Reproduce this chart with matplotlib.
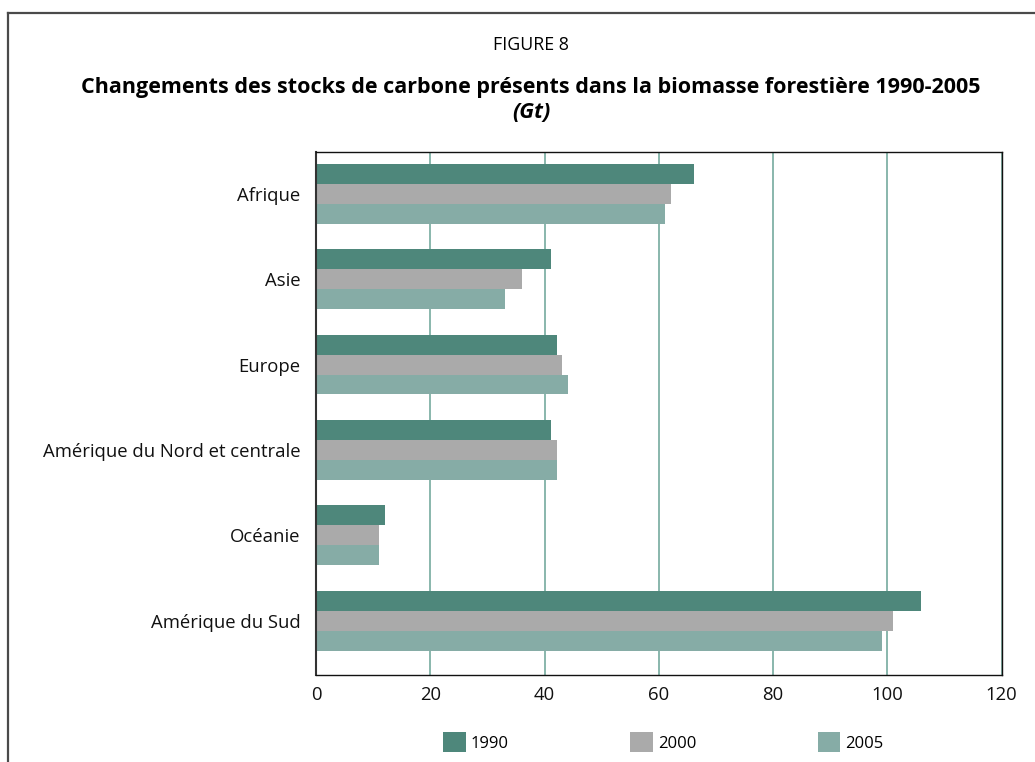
import matplotlib
matplotlib.use("Agg")
import matplotlib.pyplot as plt
from matplotlib.lines import Line2D
from matplotlib.patches import Patch
import numpy as np

plt.rcParams['font.family'] = ['Open Sans', 'DejaVu Sans']

regions = ['Afrique', 'Asie', 'Europe', 'Amérique du Nord et centrale',
           'Océanie', 'Amérique du Sud']
years = ['1990', '2000', '2005']
stock_1990 = [66.2, 41.1, 42.2, 41.2, 12.1, 105.9]
stock_2000 = [62.2, 36.0, 43.1, 42.2, 11.0, 101.0]
stock_2005 = [61.1, 33.0, 44.1, 42.2, 11.0, 99.0]
colors = ['#4e877b', '#aaaaaa', '#86aca6']

W, H = 1035, 762
fig = plt.figure(figsize=(W / 100, H / 100), dpi=100)
ax = fig.add_axes([316 / W, 87 / H, 685.5 / W, 523 / H])

y = np.arange(len(regions))
bh = 0.233
for i, vals in enumerate([stock_1990, stock_2000, stock_2005]):
    ax.barh(y + (i - 1) * bh, vals, height=bh, color=colors[i], zorder=2)

ax.set_xlim(0, 120)
ax.set_ylim(5.636, -0.49)
ax.set_xticks(range(0, 121, 20))
ax.set_yticks(y)
ax.set_yticklabels(regions)
ax.tick_params(axis='both', length=0, labelsize=13.3, colors='#111111')
ax.tick_params(axis='y', pad=11)
ax.tick_params(axis='x', pad=8)
ax.grid(axis='x', color='#6aa396', linewidth=1.1, zorder=1)
ax.grid(axis='y', visible=False)
for s in ax.spines.values():
    s.set_color('#111111')
    s.set_linewidth(1.0)
ax.spines['left'].set_color('#333333')
ax.spines['left'].set_linewidth(1.5)

cx = 531 / W
fig.text(cx, 1 - 45 / H, 'FIGURE 8', ha='center', va='center', fontsize=12.8)
fig.text(cx, 1 - 87 / H,
         'Changements des stocks de carbone présents dans la biomasse forestière 1990-2005',
         ha='center', va='center', fontsize=15.5, fontweight='bold')
fig.text(cx, 1 - 113 / H, '(Gt)', ha='center', va='center', fontsize=15.5,
         fontweight='bold', fontstyle='italic')

# outer frame (top and left only)
fig.add_artist(Line2D([8 / W, 1], [1 - 12.5 / H, 1 - 12.5 / H],
                      color='#4a4a4a', linewidth=1.6, transform=fig.transFigure))
fig.add_artist(Line2D([8 / W, 8 / W], [0, 1 - 12.5 / H],
                      color='#4a4a4a', linewidth=1.6, transform=fig.transFigure))

handles = [Patch(facecolor=c, edgecolor='none') for c in colors]
fig.legend(handles, years, loc='center left',
           bbox_to_anchor=(443 / W, 1 - 742 / H), ncol=3, frameon=False,
           fontsize=12, handlelength=1.35, handleheight=1.4,
           handletextpad=0.3, columnspacing=7.3, borderpad=0,
           borderaxespad=0)

fig.savefig('out.png', dpi=100)
